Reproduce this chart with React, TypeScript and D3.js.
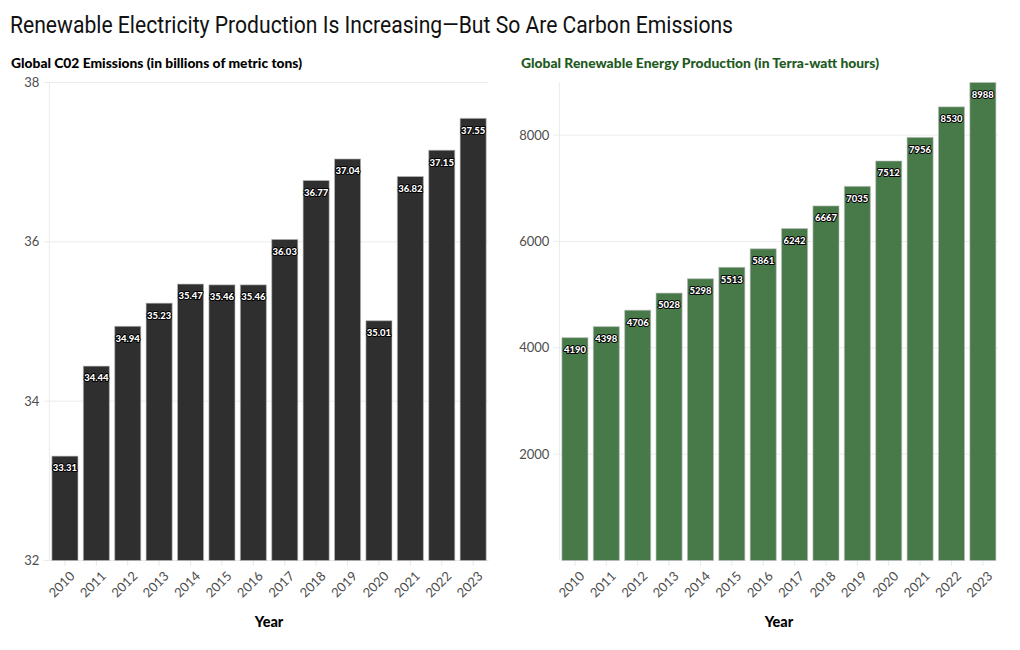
import React from "react";
import * as d3 from "d3";

const years = ["2010","2011","2012","2013","2014","2015","2016","2017","2018","2019","2020","2021","2022","2023"];
const co2 = [33.31,34.44,34.94,35.23,35.47,35.46,35.46,36.03,36.77,37.04,35.01,36.82,37.15,37.55];
const renew = [4190,4398,4706,5028,5298,5513,5861,6242,6667,7035,7512,7956,8530,8988];
const co2Ticks = [32,34,36,38];
const renewTicks = [2000,4000,6000,8000];

const FONT = "Lato, 'Noto Sans', sans-serif";

type PanelProps = {
  values: number[];
  domain: [number, number];
  ticks: number[];
  x0: number; x1: number;
  fill: string;
  title: string;
  titleColor: string;
  titleX: number;
  titleLen: number;
  fmt: (v: number) => string;
};

function Panel(p: PanelProps) {
  const yTop = 82.5, yBot = 560.5;
  const x = d3.scaleBand<string>().domain(years).range([p.x0, p.x1]).paddingInner(0.17).paddingOuter(0.08);
  const y = d3.scaleLinear().domain(p.domain).range([yBot, yTop]);
  const cx = (yr: string) => (x(yr) as number) + x.bandwidth() / 2;
  return (
    <g>
      <text x={p.titleX} y={68} fontFamily={FONT} fontWeight={900} fontSize={13} fill={p.titleColor}
        textLength={p.titleLen} lengthAdjust="spacingAndGlyphs">{p.title}</text>
      {p.ticks.map(t => (
        <line key={"g" + t} x1={p.x0 - 6} x2={p.x1} y1={y(t)} y2={y(t)} stroke="#ebebeb" strokeWidth={1} />
      ))}
      <line x1={p.x0} x2={p.x0} y1={yTop} y2={yBot} stroke="#ebebeb" strokeWidth={1} />
      {years.map(yr => (
        <line key={"t" + yr} x1={cx(yr)} x2={cx(yr)} y1={yBot} y2={yBot + 5} stroke="#e6e6e6" strokeWidth={1} />
      ))}
      {p.ticks.map(t => (
        <text key={"l" + t} x={p.x0 - 10} y={y(t)} dy="0.35em" textAnchor="end" fontFamily={FONT} fontSize={13} fill="#4d4d4d">{t}</text>
      ))}
      {p.values.map((v, i) => (
        <rect key={"b" + i} x={x(years[i])} y={y(v)} width={x.bandwidth()} height={yBot - y(v)} fill={p.fill} stroke="#bdbdbd" strokeOpacity={0.6} strokeWidth={1} />
      ))}
      {p.values.map((v, i) => (
        <text key={"v" + i} x={cx(years[i])} y={y(v) + 12} dy="0.35em" textAnchor="middle" fontFamily={FONT} fontWeight={900} fontSize={9.5}
          fill="#ffffff" stroke="#000000" strokeWidth={2} strokeLinejoin="round" paintOrder="stroke">{p.fmt(v)}</text>
      ))}
      {years.map(yr => (
        <text key={"x" + yr} transform={`translate(${cx(yr) + 4},${yBot + 10}) rotate(-45)`} textAnchor="end" dy="0.71em"
          fontFamily={FONT} fontSize={13} fill="#4d4d4d">{yr}</text>
      ))}
      <text x={(p.x0 + p.x1) / 2} y={627} textAnchor="middle" fontFamily={FONT} fontWeight={900} fontSize={14.5} fill="#000">Year</text>
    </g>
  );
}

export default function App() {
  return (
    <svg width={1020} height={650} style={{ position: "absolute", left: 0, top: 0, background: "#fff" }}>
      <text x={10} y={33} fontFamily="Roboto, sans-serif" fontSize={24} fill="#111" textLength={723} lengthAdjust="spacingAndGlyphs">
        Renewable Electricity Production Is Increasing—But So Are Carbon Emissions
      </text>
      <Panel values={co2} domain={[32, 38]} ticks={co2Ticks} x0={49.4} x1={488.7} fill="#2f2f2f"
        title="Global C02 Emissions (in billions of metric tons)" titleColor="#000" titleX={11} titleLen={291}
        fmt={v => v.toFixed(2)} />
      <Panel values={renew} domain={[0, 8988]} ticks={renewTicks} x0={559.4} x1={998.4} fill="#477a48"
        title="Global Renewable Energy Production (in Terra-watt hours)" titleColor="#1e5a1e" titleX={521} titleLen={358}
        fmt={v => String(v)} />
    </svg>
  );
}
